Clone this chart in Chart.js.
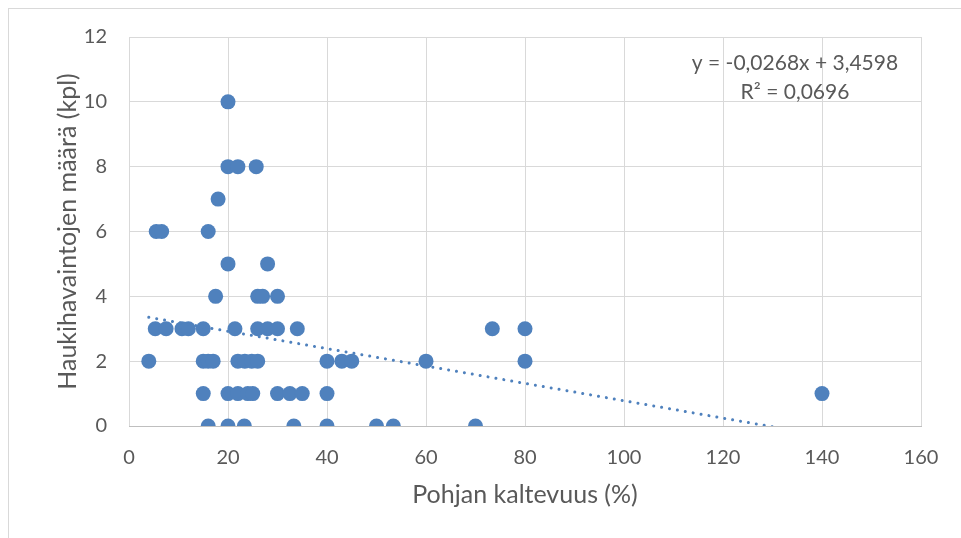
<!DOCTYPE html>
<html>
<head>
<meta charset="utf-8">
<script src="https://cdn.jsdelivr.net/npm/chart.js@4"></script>
<style>
  html, body { margin: 0; padding: 0; background: #fff; overflow: hidden; }
  #wrap { position: relative; width: 961px; height: 538px; }
  #frame { position: absolute; left: 8px; top: 8px; width: 1000px; height: 1000px;
           border-left: 1px solid #d9d9d9; border-top: 1px solid #d9d9d9; }
  canvas { position: absolute; left: 0; top: 0; }
</style>
</head>
<body>
<div id="wrap">
  <div id="frame"></div>
  <canvas id="chart" width="961" height="538"></canvas>
</div>
<script>
// Pohjan kaltevuus (%) vs. haukihavaintojen määrä (kpl)
const slopeValues = [
  20,
  20, 22, 25.7,
  18,
  5.5, 6.6, 16,
  20, 28,
  17.5, 26, 27, 30,
  5.3, 7.5, 10.7, 12, 15, 21.4, 26, 28, 30, 34, 73.4, 80,
  4, 15, 16, 17, 22, 23.4, 24.8, 26, 40, 43, 45, 60, 80,
  15, 20, 22, 24, 25, 30, 32.5, 35, 40, 140,
  16, 20, 23.3, 33.3, 40, 50, 53.4, 70
];
const pikeCounts = [
  10,
  8, 8, 8,
  7,
  6, 6, 6,
  5, 5,
  4, 4, 4, 4,
  3, 3, 3, 3, 3, 3, 3, 3, 3, 3, 3, 3,
  2, 2, 2, 2, 2, 2, 2, 2, 2, 2, 2, 2, 2,
  1, 1, 1, 1, 1, 1, 1, 1, 1, 1,
  0, 0, 0, 0, 0, 0, 0, 0
];

// linear trendline as reported in the chart
const trendSlope = -0.0268;
const trendIntercept = 3.4598;
const rSquared = 0.0696;

const xMin = 0, xMax = 160, xStep = 20;
const yMin = 0, yMax = 12, yStep = 2;

const blue = '#4f81bd';
const textColor = '#595959';
const gridColor = '#d9d9d9';
const fontFamily = 'Lato, "Open Sans", sans-serif';

const points = slopeValues.map((x, i) => ({ x: x, y: pikeCounts[i] }));
const minX = Math.min(...slopeValues);
const maxX = Math.max(...slopeValues);
const trend = [minX, maxX].map(x => ({ x: x, y: trendSlope * x + trendIntercept }));

const fmt = v => v.toFixed(4).replace('.', ',');
const eqLine1 = 'y = ' + fmt(trendSlope) + 'x + ' + fmt(trendIntercept);
const eqLine2 = 'R² = ' + fmt(rSquared);

const equationLabel = {
  id: 'equationLabel',
  afterDraw(chart) {
    const ctx = chart.ctx;
    ctx.save();
    ctx.font = '21px ' + fontFamily;
    ctx.fillStyle = textColor;
    ctx.textAlign = 'center';
    ctx.textBaseline = 'middle';
    ctx.fillText(eqLine1, 795, 63);
    ctx.fillText(eqLine2, 795, 92);
    ctx.restore();
  }
};

new Chart(document.getElementById('chart').getContext('2d'), {
  type: 'scatter',
  data: {
    datasets: [
      {
        label: 'Trendline',
        data: trend,
        showLine: true,
        pointRadius: 0,
        borderColor: blue,
        borderWidth: 3,
        borderDash: [0.01, 8],
        borderCapStyle: 'round',
        clip: 0
      },
      {
        label: 'Havainnot',
        data: points,
        pointRadius: 7.5,
        pointHoverRadius: 7.5,
        backgroundColor: blue,
        borderWidth: 0
      }
    ]
  },
  options: {
    responsive: false,
    animation: false,
    layout: { padding: { top: 37, right: 40, bottom: 0, left: 0 } },
    plugins: {
      legend: { display: false },
      tooltip: { enabled: false }
    },
    scales: {
      x: {
        type: 'linear',
        min: xMin,
        max: xMax,
        afterFit: s => { s.height = 112; },
        ticks: { stepSize: xStep, color: textColor, padding: 20, font: { family: fontFamily, size: 20 } },
        grid: { color: gridColor, drawTicks: false },
        border: { color: '#bfbfbf', width: 1 },
        title: {
          display: true,
          text: 'Pohjan kaltevuus (%)',
          color: textColor,
          font: { family: fontFamily, size: 25 },
          padding: { top: 0, bottom: 28 }
        }
      },
      y: {
        type: 'linear',
        min: yMin,
        max: yMax,
        afterFit: s => { s.width = 129; },
        ticks: { stepSize: yStep, color: textColor, padding: 22, font: { family: fontFamily, size: 20 } },
        grid: { color: gridColor, drawTicks: false },
        border: { display: false },
        title: {
          display: true,
          text: 'Haukihavaintojen määrä (kpl)',
          color: textColor,
          font: { family: fontFamily, size: 25 },
          padding: { top: 53, bottom: 0 }
        }
      }
    }
  },
  plugins: [equationLabel]
});
</script>
</body>
</html>
